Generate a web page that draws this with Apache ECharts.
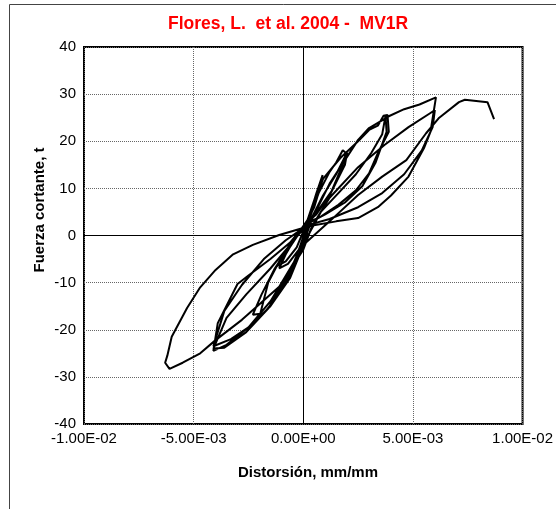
<!doctype html>
<html>
<head>
<meta charset="utf-8">
<script src="https://cdn.jsdelivr.net/npm/echarts@6/dist/echarts.min.js"></script>
<style>
  html, body { margin: 0; padding: 0; background: #fff; }
  #chart { width: 556px; height: 509px; }
</style>
</head>
<body>
<div id="chart"></div>
<script type="text/javascript">
// distorsion (mm/mm) and fuerza cortante (t), in test order
var distorsion = [
  0, 0.0003, 0.0006, 0.00088, 0.00082, 0.0005, 0.0001, -0.0004, -0.0009, -0.0012,
  -0.0008, -0.0003, 0.0001, 0.0005, 0.00083, 0.0007, 0.0003, -0.0003, -0.0008, -0.0011,
  -0.0007, -0.0002,
  0.0002, 0.0007, 0.0012, 0.0015, 0.0018, 0.00195, 0.0018, 0.0013, 0.0007, 0.0001,
  -0.0005, -0.0011, -0.0016, -0.0020,
  -0.0016, -0.0011, -0.0005, -0.0001, 0.0003, 0.0009, 0.0015, 0.0020, 0.0019, 0.0012,
  0.0006, 0, -0.0006, -0.0013, -0.0019, -0.0023, -0.0018, -0.0012, -0.0006, -0.0001,
  0.0003, 0.0009, 0.0017, 0.0025, 0.0030, 0.0034, 0.00366, 0.00384, 0.0039, 0.0034,
  0.0030, 0.0024, 0.0016, 0.0008, 0.0001, -0.0006, -0.0015, -0.0025, -0.0030, -0.0039,
  -0.0041,
  -0.0035, -0.0025, -0.0015, -0.0006, 0.0001, 0.0008, 0.0016, 0.0024, 0.0031, 0.0036,
  0.00375, 0.0038, 0.0033, 0.0027, 0.0019, 0.0010, 0.0002, -0.0006, -0.0015, -0.0026,
  -0.0035, -0.0041, -0.0036, -0.0026, -0.0016, -0.0007, -0.0001,
  0.0004, 0.0012, 0.0019, 0.0025, 0.0030, 0.0039, 0.0046, 0.0053, 0.00605, 0.0058,
  0.0055, 0.0048, 0.0040, 0.0034, 0.0025, 0.0015, 0.0003, -0.0011, -0.0023, -0.0032,
  -0.0040, -0.0047, -0.0053, -0.0060, -0.0062, -0.0063, -0.0061,
  -0.0055, -0.0047, -0.0040, -0.0028, -0.0011, 0, 0.0004, 0.0012, 0.0025, 0.0037,
  0.0048, 0.0058, 0.0060, 0.0059, 0.0054, 0.0046, 0.0036, 0.0025, 0.0012, 0.0002,
  -0.0008, -0.0018, -0.0028, -0.0036, -0.0041,
  -0.0033, -0.0025, -0.0015, -0.0006, 0.0001, 0.0012, 0.0025, 0.0036, 0.0047, 0.0056,
  0.0062, 0.0071, 0.00737, 0.0084, 0.0087
];
var fuerza = [
  0, 4.5, 9, 12.8, 11, 6, 2.5, -1, -4.5, -6.5,
  -5.5, -2.5, 2, 7.5, 12, 9, 4, 0, -4, -7,
  -6, -3,
  2.5, 9, 13.5, 15.5, 18.1, 17.5, 15, 9.5, 5.5, 2.5,
  -1, -5.5, -10, -17.3,
  -15.5, -11.5, -6.5, -2, 3, 8.5, 13, 17.6, 15, 8.5,
  4.5, 2, -2, -7, -12.5, -16.8, -16.5, -13, -8, -3,
  4, 12, 16.5, 20, 22.4, 23.3, 25.4, 25.6, 22, 17.5,
  13.2, 9.6, 6.5, 4, 2.5, -1.5, -5, -8.5, -10.3, -18.6,
  -24.5,
  -23.2, -19.5, -15, -9, -1, 5, 9, 13, 17.5, 21.5,
  25.4, 22, 15.5, 10.5, 7, 4.5, 2.5, -2, -7, -12.5,
  -17.5, -24, -23.8, -20.5, -15.5, -9.5, -3,
  3.5, 11, 16, 20.3, 22.8, 25.3, 26.8, 27.8, 29.3, 22,
  18.5, 12.5, 8.5, 6, 3.7, 3, 2, 0.1, -2, -4,
  -7.3, -11, -15.4, -21.5, -25.5, -27, -28.3,
  -27, -25, -22.2, -17.9, -10.9, -3, 2, 8, 14.5, 19.2,
  23, 26, 26.6, 23, 18, 13, 9, 6, 3.5, 2.2,
  -1, -5, -10.5, -16, -23.5,
  -22, -19.5, -14, -7, -1.6, 3, 8.6, 12.5, 16, 21.7,
  25, 28.3, 28.8, 28.3, 24.7
];
var xTicks = { min: -0.01, max: 0.01, step: 0.005 };
var yTicks = { min: -40, max: 40, step: 10 };

var curve = distorsion.map(function (x, i) { return [x, fuerza[i]]; });

function sciLabel(v) {
  if (Math.abs(v) < 1e-12) v = 0;
  var s = v.toExponential(2).toUpperCase();
  return s.replace(/E([+-])(\d)$/, 'E$10$2');
}

var myChart = echarts.init(document.getElementById('chart'));
var dotted = { color: '#666', width: 1, type: [1, 1] };

var option = {
  animation: false,
  title: {
    text: 'Flores, L.  et al. 2004 -  MV1R',
    left: 163, top: 10,
    textStyle: { color: '#ff0000', fontFamily: 'Liberation Sans', fontWeight: 'bold', fontSize: 17.5 }
  },
  grid: {
    left: 84, right: 31, top: 47, bottom: 85,
    show: true, borderColor: '#000', borderWidth: 2, backgroundColor: '#fff'
  },
  xAxis: {
    type: 'value', min: xTicks.min, max: xTicks.max, interval: xTicks.step,
    axisLine: { show: false }, axisTick: { show: false },
    axisLabel: { formatter: sciLabel, color: '#000', fontFamily: 'Liberation Sans', fontSize: 15, margin: 7 },
    splitLine: { show: true, lineStyle: dotted }
  },
  yAxis: {
    type: 'value', min: yTicks.min, max: yTicks.max, interval: yTicks.step,
    axisLine: { show: false }, axisTick: { show: false },
    axisLabel: { color: '#000', fontFamily: 'Liberation Sans', fontSize: 15, margin: 8 },
    splitLine: { show: true, lineStyle: dotted }
  },
  graphic: [
    { type: 'rect', shape: { x: 9.5, y: 4.5, width: 600, height: 600 },
      style: { fill: 'none', stroke: '#444', lineWidth: 1 }, silent: true },
    { type: 'text', x: 40, y: 210, rotation: Math.PI / 2,
      style: { text: 'Fuerza cortante, t', fill: '#000', font: 'bold 15px "Liberation Sans"',
               textAlign: 'center', textVerticalAlign: 'middle' } },
    { type: 'text', x: 308, y: 473,
      style: { text: 'Distorsión, mm/mm', fill: '#000', font: 'bold 15px "Liberation Sans"',
               textAlign: 'center', textVerticalAlign: 'middle' } }
  ],
  series: [
    {
      type: 'line',
      data: curve,
      showSymbol: false,
      lineStyle: { color: '#000', width: 2 },
      silent: true,
      z: 3,
      markLine: {
        silent: true, symbol: 'none', label: { show: false },
        lineStyle: { color: '#000', width: 1, type: 'solid' },
        data: [{ xAxis: 0 }, { yAxis: 0 }]
      }
    }
  ]
};

myChart.setOption(option);
</script>
</body>
</html>
